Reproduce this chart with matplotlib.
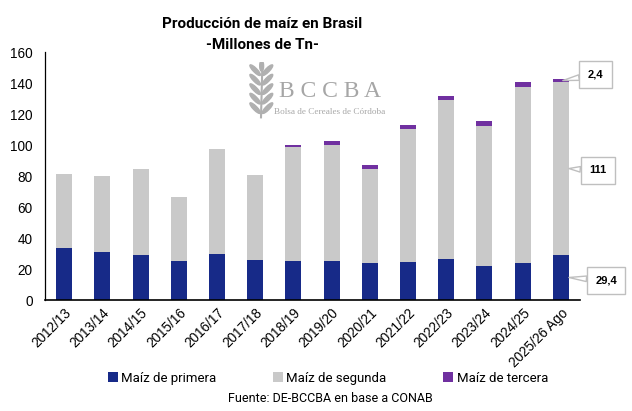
import numpy as np
import matplotlib.pyplot as plt
from matplotlib.patches import Ellipse

campanas = ["2012/13", "2013/14", "2014/15", "2015/16", "2016/17", "2017/18", "2018/19",
            "2019/20", "2020/21", "2021/22", "2022/23", "2023/24", "2024/25", "2025/26 Ago"]
primera = [33.7, 31.2, 29.2, 25.4, 29.9, 26.0, 25.4, 25.4, 24.1, 24.7, 26.6, 22.1, 24.1, 29.4]
segunda = [47.8, 49.0, 55.5, 41.2, 67.7, 54.8, 73.1, 74.8, 60.6, 85.8, 102.6, 90.4, 113.5, 111.0]
tercera = [0, 0, 0, 0, 0, 0, 1.7, 2.6, 2.6, 2.6, 2.6, 3.2, 3.2, 2.4]
etiquetas = ["29,4", "111", "2,4"]

c_prim = "#172a88"
c_seg = "#c9c9c9"
c_ter = "#7030a0"

fig = plt.figure(figsize=(6.32, 4.11), dpi=100)
ax = fig.add_axes([45 / 632, 1 - 300.3 / 411, 535 / 632, 248.3 / 411])

x = np.arange(len(campanas))
prim = np.array(primera)
seg = np.array(segunda)
ter = np.array(tercera)
w = 0.42
ax.bar(x, prim, w, color=c_prim, label="Maíz de primera")
ax.bar(x, seg, w, bottom=prim, color=c_seg, label="Maíz de segunda")
ax.bar(x, ter, w, bottom=prim + seg, color=c_ter, label="Maíz de tercera")

ax.set_xlim(-0.5, len(campanas) - 0.5)
ax.set_ylim(0, 160)
ax.set_yticks(np.arange(0, 161, 20))
ax.set_xticks(x)
ax.set_xticklabels(campanas, rotation=45, ha="right", va="top", rotation_mode="anchor",
                   fontsize=9.8, family="Liberation Sans")
for t in ax.get_yticklabels():
    t.set_fontsize(9.8)
    t.set_family("Liberation Sans")
ax.tick_params(axis="both", length=0)
ax.tick_params(axis="y", pad=9)
ax.tick_params(axis="x", pad=4)
for s in ["top", "right"]:
    ax.spines[s].set_visible(False)
ax.spines["left"].set_linewidth(0.9)
ax.spines["bottom"].set_linewidth(1.2)

# callouts on last bar
i = len(campanas) - 1
xe = i + w / 2
puntos = [(xe, prim[i] / 2, (19, -2)),
          (xe, prim[i] + seg[i] / 2, (14.5, -1.4)),
          (i + 0.05, prim[i] + seg[i] + ter[i] / 2, (18, 4.3))]
for (px, py, off), txt in zip(puntos, etiquetas):
    ax.annotate(txt, xy=(px, py), xytext=off, textcoords="offset points",
                ha="left", va="center", fontsize=8, fontweight="bold",
                family="Liberation Sans",
                bbox=dict(boxstyle="square,pad=0.75", fc="white", ec="#bfbfbf", lw=1),
                arrowprops=dict(arrowstyle="wedge,tail_width=0.5", fc="white", ec="#bfbfbf",
                                lw=1, shrinkA=0, shrinkB=0),
                annotation_clip=False)

# title
fig.text(262 / 632, 1 - 24 / 411, "Producción de maíz en Brasil", ha="center", va="center",
         fontsize=11, fontweight="bold", family="Roboto")
fig.text(262 / 632, 1 - 45 / 411, "-Millones de Tn-", ha="center", va="center",
         fontsize=11, fontweight="bold", family="Roboto")

# watermark logo
fig.text(279 / 632, 1 - 91 / 411, "B C C B A", ha="left", va="center", fontsize=17,
         family="Liberation Serif", color="#a6a6a6")
fig.text(274 / 632, 1 - 112 / 411, "Bolsa de Cereales de Córdoba", ha="left", va="center",
         fontsize=6.6, family="Liberation Serif", color="#a6a6a6")
lax = fig.add_axes([248 / 632, 1 - 120 / 411, 26 / 632, 58 / 411])
lax.set_xlim(-1, 1)
lax.set_ylim(0, 4.4)
lax.axis("off")
lax.plot([0, 0.1], [0.2, 4.0], color="#b0b0b0", lw=1.5)
for k in range(5):
    yk = 0.9 + k * 0.72
    lax.add_patch(Ellipse((-0.45, yk), 0.3, 1.1, angle=45, color="#b0b0b0"))
    lax.add_patch(Ellipse((0.5, yk), 0.3, 1.1, angle=-45, color="#b0b0b0"))
lax.add_patch(Ellipse((0.05, 4.1), 0.3, 0.8, color="#b0b0b0"))

# legend and source
fig.legend(loc="center", bbox_to_anchor=(328 / 632, 1 - 378 / 411), ncol=3, frameon=False,
           handlelength=0.75, handleheight=0.75, handletextpad=0.25, columnspacing=4.3,
           prop={"family": "Roboto", "size": 9.5})
fig.text(330 / 632, 1 - 398 / 411, "Fuente: DE-BCCBA en base a CONAB", ha="center",
         va="center", fontsize=9, family="Roboto")

fig.savefig("out.png", dpi=100)
